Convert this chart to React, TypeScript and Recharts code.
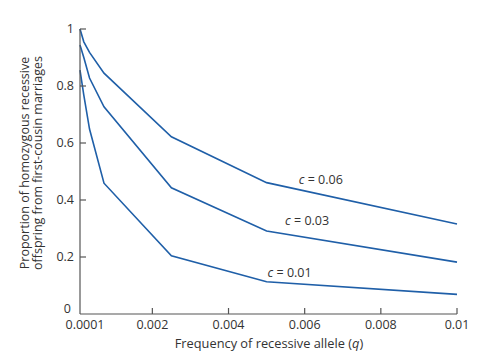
import { LineChart, Line, XAxis, YAxis, ReferenceDot } from 'recharts';

// frequency of recessive allele q (first point sits on the axis origin)
const qValues = [0.0001, 0.0002, 0.00035, 0.00073, 0.0025, 0.005, 0.01];
// proportion of homozygous recessive offspring from first-cousin marriages
const c006 = [1.0, 0.955, 0.918, 0.845, 0.622, 0.461, 0.316];
const c003 = [0.944, 0.9, 0.828, 0.727, 0.443, 0.291, 0.182];
const c001 = [0.856, 0.768, 0.649, 0.459, 0.204, 0.113, 0.069];

const xTicks = [0.0001, 0.002, 0.004, 0.006, 0.008, 0.01];
const xTickLabels = ['0.0001', '0.002', '0.004', '0.006', '0.008', '0.01'];
const yTicks = [0, 0.2, 0.4, 0.6, 0.8, 1];
const yTickLabels = ['0', '0.2', '0.4', '0.6', '0.8', '1'];

// where the "c = ..." captions sit, in data units
const curveNames = ['0.06', '0.03', '0.01'];
const captionQ = [0.00645, 0.00609, 0.00563];
const captionV = [0.467, 0.323, 0.14];

const data = qValues.map((q, i) => ({ q, c006: c006[i], c003: c003[i], c001: c001[i] }));

const FONT = '"Open Sans", "DejaVu Sans", sans-serif';
const TEXT = '#333';
const AXIS = '#555';
const BLUE = '#1f5fa8';
const TICK_GAP = 6;

const XTick = ({ x, y, payload }: any) => {
  const i = xTicks.indexOf(payload.value);
  const axisY = y - TICK_GAP;
  return (
    <g>
      {i > 0 && <line x1={x} x2={x} y1={axisY} y2={axisY - 6} stroke={AXIS} strokeWidth={1.2} />}
      <text x={i === 0 ? x + 5 : x} y={y} dy="0.7em" textAnchor="middle" fill={TEXT} fontSize={12.5} fontFamily={FONT}>
        {xTickLabels[i]}
      </text>
    </g>
  );
};

const YTick = ({ x, y, payload }: any) => {
  const i = yTicks.indexOf(payload.value);
  const axisX = x + TICK_GAP;
  return (
    <g>
      {i > 0 && <line x1={axisX} x2={axisX + 6} y1={y} y2={y} stroke={AXIS} strokeWidth={1.2} />}
      <text x={i === 0 ? x - 3 : x} y={i === 0 ? y - 5 : y} dy="0.35em" textAnchor="end" fill={TEXT} fontSize={12.5} fontFamily={FONT}>
        {yTickLabels[i]}
      </text>
    </g>
  );
};

const caption = (name: string) => (props: any) => {
  const { x, y } = props.viewBox;
  return (
    <text x={x} y={y} dy="0.35em" textAnchor="middle" fill={TEXT} fontSize={12.5} fontFamily={FONT}>
      <tspan fontStyle="italic">c</tspan>
      <tspan> = {name}</tspan>
    </text>
  );
};

export default function App() {
  return (
    <div style={{ position: 'absolute', left: 0, top: 0, background: '#fff' }}>
      <LineChart width={496} height={361} data={data} margin={{ top: 29, right: 39, bottom: 0, left: 0 }}>
        <XAxis
          dataKey="q"
          type="number"
          domain={[0.0001, 0.01]}
          ticks={xTicks}
          tickSize={0}
          tickMargin={TICK_GAP}
          tick={<XTick />}
          stroke={AXIS}
          strokeWidth={1.2}
          height={47}
          interval={0}
        />
        <YAxis
          type="number"
          domain={[0, 1]}
          ticks={yTicks}
          tickSize={0}
          tickMargin={TICK_GAP}
          tick={<YTick />}
          stroke={AXIS}
          strokeWidth={1.2}
          width={80}
          interval={0}
        />
        <Line dataKey="c006" type="linear" stroke={BLUE} strokeWidth={1.6} dot={false} isAnimationActive={false} />
        <Line dataKey="c003" type="linear" stroke={BLUE} strokeWidth={1.6} dot={false} isAnimationActive={false} />
        <Line dataKey="c001" type="linear" stroke={BLUE} strokeWidth={1.6} dot={false} isAnimationActive={false} />
        {curveNames.map((name, i) => (
          <ReferenceDot
            key={name}
            x={captionQ[i]}
            y={captionV[i]}
            r={1}
            fill="none"
            stroke="none"
            label={caption(name)}
          />
        ))}
        <text
          transform="translate(29,163) rotate(-90)"
          textAnchor="middle"
          fill={TEXT}
          fontSize={12.5}
          fontFamily={FONT}
        >
          <tspan x={0} dy={0}>Proportion of homozygous recessive</tspan>
          <tspan x={0} dy={12.5}>offspring from first-cousin marriages</tspan>
        </text>
        <text x={269} y={347.5} textAnchor="middle" fill={TEXT} fontSize={12.8} fontFamily={FONT}>
          Frequency of recessive allele (<tspan fontStyle="italic">q</tspan>)
        </text>
      </LineChart>
    </div>
  );
}
